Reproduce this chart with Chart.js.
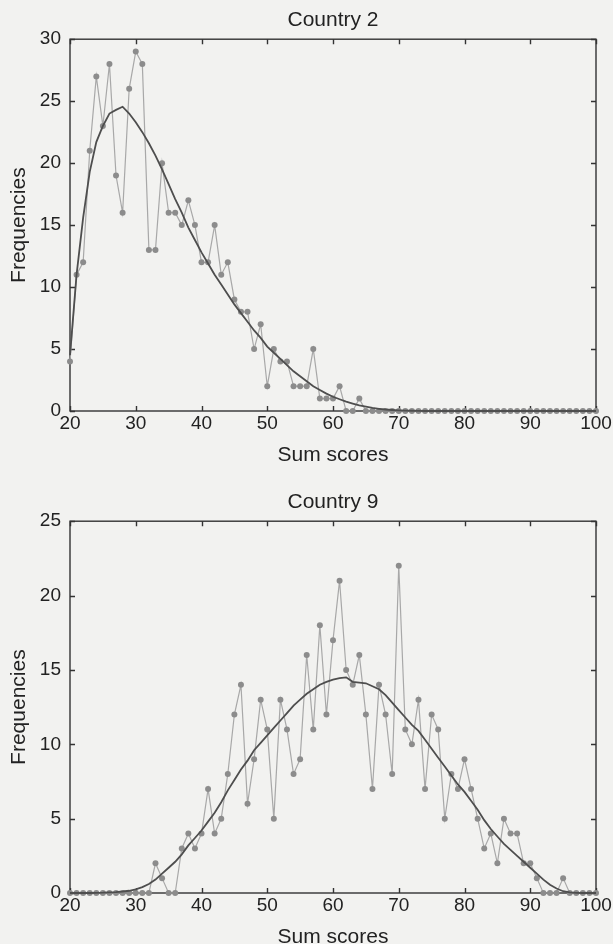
<!DOCTYPE html>
<html>
<head>
<meta charset="utf-8">
<script src="https://cdn.jsdelivr.net/npm/chart.js"></script>
<style>
  html, body { margin: 0; padding: 0; background: #f2f2f0; overflow: hidden; }
  #hoja { position: relative; width: 613px; height: 944px; overflow: hidden; }
  canvas { position: absolute; left: 0; }
  #grafico2 { top: 0; }
  #grafico9 { top: 482px; }
</style>
</head>
<body>
<div id="hoja">
  <canvas id="grafico2" width="613" height="470"></canvas>
  <canvas id="grafico9" width="613" height="470"></canvas>
</div>
<script>
// sum scores (x) shared by both panels
const puntajes = [
  20, 21, 22, 23, 24, 25, 26, 27, 28, 29, 30, 31, 32, 33, 34, 35, 36, 37, 38, 39,
  40, 41, 42, 43, 44, 45, 46, 47, 48, 49, 50, 51, 52, 53, 54, 55, 56, 57, 58, 59,
  60, 61, 62, 63, 64, 65, 66, 67, 68, 69, 70, 71, 72, 73, 74, 75, 76, 77, 78, 79,
  80, 81, 82, 83, 84, 85, 86, 87, 88, 89, 90, 91, 92, 93, 94, 95, 96, 97, 98, 99, 100
];

const ticksX = [20, 30, 40, 50, 60, 70, 80, 90, 100];
const ticksY2 = [0, 5, 10, 15, 20, 25, 30];
const ticksY9 = [0, 5, 10, 15, 20, 25];

// Country 2: observed frequencies
const observado2 = [
  4, 11, 12, 21, 27, 23, 28, 19, 16, 26, 29, 28, 13, 13, 20, 16, 16, 15, 17, 15,
  12, 12, 15, 11, 12, 9, 8, 8, 5, 7, 2, 5, 4, 4, 2, 2, 2, 5, 1, 1,
  1, 2, 0, 0, 1, 0, 0, 0, 0, 0, 0, 0, 0, 0, 0, 0, 0, 0, 0, 0,
  0, 0, 0, 0, 0, 0, 0, 0, 0, 0, 0, 0, 0, 0, 0, 0, 0, 0, 0, 0, 0
];

// Country 2: fitted curve
const ajuste2 = [
  4.5, 11, 15.6, 19.3, 21.7, 23.0, 24.0, 24.3, 24.55, 24.0, 23.3, 22.5, 21.6, 20.6, 19.5, 18.3, 17.1, 16.0, 14.8, 13.8,
  12.8, 11.9, 11.0, 10.2, 9.4, 8.6, 7.9, 7.2, 6.5, 5.9, 5.2, 4.7, 4.2, 3.7, 3.2, 2.8, 2.4, 2.0, 1.7, 1.4,
  1.15, 0.95, 0.75, 0.6, 0.45, 0.35, 0.25, 0.18, 0.12, 0.08, 0.05, 0.03, 0.02, 0.01, 0, 0, 0, 0, 0, 0,
  0, 0, 0, 0, 0, 0, 0, 0, 0, 0, 0, 0, 0, 0, 0, 0, 0, 0, 0, 0, 0
];

// Country 9: observed frequencies
const observado9 = [
  0, 0, 0, 0, 0, 0, 0, 0, 0, 0, 0, 0, 0, 2, 1, 0, 0, 3, 4, 3,
  4, 7, 4, 5, 8, 12, 14, 6, 9, 13, 11, 5, 13, 11, 8, 9, 16, 11, 18, 12,
  17, 21, 15, 14, 16, 12, 7, 14, 12, 8, 22, 11, 10, 13, 7, 12, 11, 5, 8, 7,
  9, 7, 5, 3, 4, 2, 5, 4, 4, 2, 2, 1, 0, 0, 0, 1, 0, 0, 0, 0, 0
];

// Country 9: fitted curve
const ajuste9 = [
  0, 0, 0, 0, 0.01, 0.02, 0.04, 0.06, 0.1, 0.15, 0.25, 0.4, 0.6, 0.9, 1.3, 1.7, 2.1, 2.6, 3.2, 3.7,
  4.2, 4.8, 5.4, 6.1, 6.9, 7.6, 8.3, 8.9, 9.6, 10.1, 10.6, 11.1, 11.6, 12.1, 12.6, 13.0, 13.4, 13.7, 14.0, 14.2,
  14.35, 14.45, 14.5, 14.2, 14.15, 14.1, 13.9, 13.7, 13.3, 12.8, 12.3, 11.8, 11.3, 10.9, 10.3, 9.7, 9.1, 8.5, 7.9, 7.3,
  6.8, 6.2, 5.6, 4.9, 4.3, 3.8, 3.3, 2.9, 2.5, 2.1, 1.7, 1.3, 0.9, 0.55, 0.3, 0.12, 0.04, 0.01, 0, 0, 0
];

const fuente = "'Liberation Sans', Arial, Helvetica, sans-serif";
const colorTexto = "#222222";

function puntos(xs, ys) {
  return xs.map((x, i) => ({ x: x, y: ys[i] }));
}

// box round the plot with inward ticks on all four sides (matlab style)
const marco = {
  id: "marco",
  beforeDatasetsDraw(chart) {
    const { ctx, chartArea: a, scales } = chart;
    const largo = 5;
    ctx.save();
    ctx.strokeStyle = "#333333";
    ctx.lineWidth = 1.4;
    ctx.strokeRect(a.left, a.top, a.right - a.left, a.bottom - a.top);
    ctx.beginPath();
    scales.x.ticks.forEach((t) => {
      const px = Math.round(scales.x.getPixelForValue(t.value)) + 0.5;
      ctx.moveTo(px, a.bottom);
      ctx.lineTo(px, a.bottom - largo);
      ctx.moveTo(px, a.top);
      ctx.lineTo(px, a.top + largo);
    });
    scales.y.ticks.forEach((t) => {
      const py = Math.round(scales.y.getPixelForValue(t.value)) + 0.5;
      ctx.moveTo(a.left, py);
      ctx.lineTo(a.left + largo, py);
      ctx.moveTo(a.right, py);
      ctx.lineTo(a.right - largo, py);
    });
    ctx.stroke();
    ctx.restore();
  }
};

function crearGrafico(id, titulo, observado, ajuste, ticksY) {
  const ctx = document.getElementById(id);
  return new Chart(ctx, {
    type: "line",
    data: {
      datasets: [
        {
          label: "Observed",
          data: puntos(puntajes, observado),
          borderColor: "#a8a8a8",
          borderWidth: 1.2,
          pointRadius: 3,
          pointBackgroundColor: "#8c8c8c",
          pointBorderWidth: 0,
          tension: 0,
          clip: false,
          order: 1
        },
        {
          label: "Fit",
          data: puntos(puntajes, ajuste),
          borderColor: "#4e4e4e",
          borderWidth: 1.8,
          pointRadius: 0,
          tension: 0,
          clip: false,
          order: 0
        }
      ]
    },
    options: {
      responsive: false,
      animation: false,
      layout: { padding: { left: 0, right: 17, top: 0, bottom: 0 } },
      plugins: {
        legend: { display: false },
        tooltip: { enabled: false },
        title: {
          display: true,
          text: titulo,
          fullSize: false,
          color: colorTexto,
          font: { family: fuente, size: 21, weight: "normal" },
          padding: { top: 8, bottom: 6 }
        }
      },
      scales: {
        x: {
          type: "linear",
          min: ticksX[0],
          max: ticksX[ticksX.length - 1],
          afterBuildTicks(scale) {
            scale.ticks = ticksX.map((v) => ({ value: v }));
          },
          ticks: {
            padding: 1,
            maxRotation: 0,
            color: colorTexto,
            font: { family: fuente, size: 19 }
          },
          grid: { display: false, drawTicks: false },
          border: { display: false },
          title: {
            display: true,
            text: "Sum scores",
            color: colorTexto,
            font: { family: fuente, size: 21 },
            padding: { top: 0, bottom: 2 }
          },
          afterFit(scale) {
            scale.height = 59;
          }
        },
        y: {
          type: "linear",
          min: ticksY[0],
          max: ticksY[ticksY.length - 1],
          afterBuildTicks(scale) {
            scale.ticks = ticksY.map((v) => ({ value: v }));
          },
          ticks: {
            padding: 9,
            color: colorTexto,
            font: { family: fuente, size: 19 }
          },
          grid: { display: false, drawTicks: false },
          border: { display: false },
          title: {
            display: true,
            text: "Frequencies",
            color: colorTexto,
            font: { family: fuente, size: 21 },
            padding: { top: 7, bottom: 0 }
          },
          afterFit(scale) {
            scale.width = 70;
          }
        }
      }
    },
    plugins: [marco]
  });
}

crearGrafico("grafico2", "Country 2", observado2, ajuste2, ticksY2);
crearGrafico("grafico9", "Country 9", observado9, ajuste9, ticksY9);
</script>
</body>
</html>
